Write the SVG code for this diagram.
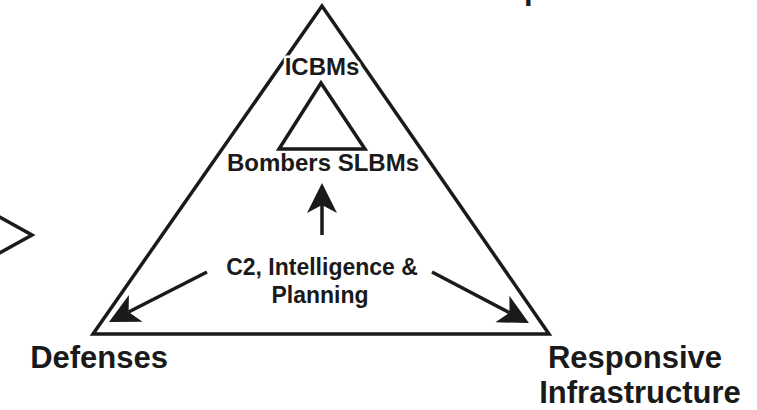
<svg xmlns="http://www.w3.org/2000/svg" width="757" height="410" viewBox="0 0 757 410">
<style>
  .shape { fill: none; stroke: #1a1a1a; stroke-width: 3.5; stroke-linejoin: miter; }
  .lbl { font-family: "Liberation Sans", Arial, sans-serif; font-weight: bold; fill: #1a1a1a; }
  .mc { text-anchor: middle; }
  .st { text-anchor: start; }
  .en { text-anchor: end; }
  .halo { stroke: #ffffff; stroke-width: 5; paint-order: stroke; stroke-linejoin: round; }
  .big { font-size: 31px; }
  .mid { font-size: 24px; }
  .sm { font-size: 23px; }
  .conn { fill: none; stroke: #1a1a1a; stroke-width: 3.5; marker-end: url(#arrow); }
</style>
<defs>
  <marker id="arrow" markerUnits="userSpaceOnUse" markerWidth="32" markerHeight="32" viewBox="0 -16 32 32" refX="8" refY="0" orient="auto" overflow="visible">
    <path d="M0,-15 L30,0 L0,15 L8,0 Z" fill="#1a1a1a"/>
  </marker>
</defs>
<rect width="757" height="410" fill="#ffffff"/>

<g id="partial-left-shape">
  <polyline class="shape" points="-6,214 32,235 -6,256"/>
</g>
<g id="partial-top-label">
  <text class="lbl big st" x="524" y="-1">p</text>
</g>

<g id="outer-triangle">
  <polygon class="shape" points="322,6 93,334 549,334"/>
</g>
<g id="inner-triangle">
  <polygon class="shape" points="321,83 279,149 365,149"/>
</g>
<g id="icbms">
  <text class="lbl mid mc halo" x="322" y="75">ICBMs</text>
</g>
<g id="bombers-slbms">
  <text class="lbl mid mc" x="323" y="171">Bombers SLBMs</text>
</g>
<g id="c2">
  <text class="lbl sm mc" x="322" y="275">C2, Intelligence &amp;</text>
  <text class="lbl sm mc" x="320" y="303">Planning</text>
</g>
<g id="defenses">
  <text class="lbl big en" x="168" y="368">Defenses</text>
</g>
<g id="responsive-infrastructure">
  <text class="lbl big mc" x="635" y="368">Responsive</text>
  <text class="lbl big mc" x="640" y="403">Infrastructure</text>
</g>

<g id="connectors">
  <line class="conn" x1="322" y1="235" x2="322" y2="205"/>
  <line class="conn" x1="207" y1="272" x2="128.6" y2="312"/>
  <line class="conn" x1="432" y1="272" x2="509.5" y2="312.8"/>
</g>
</svg>
